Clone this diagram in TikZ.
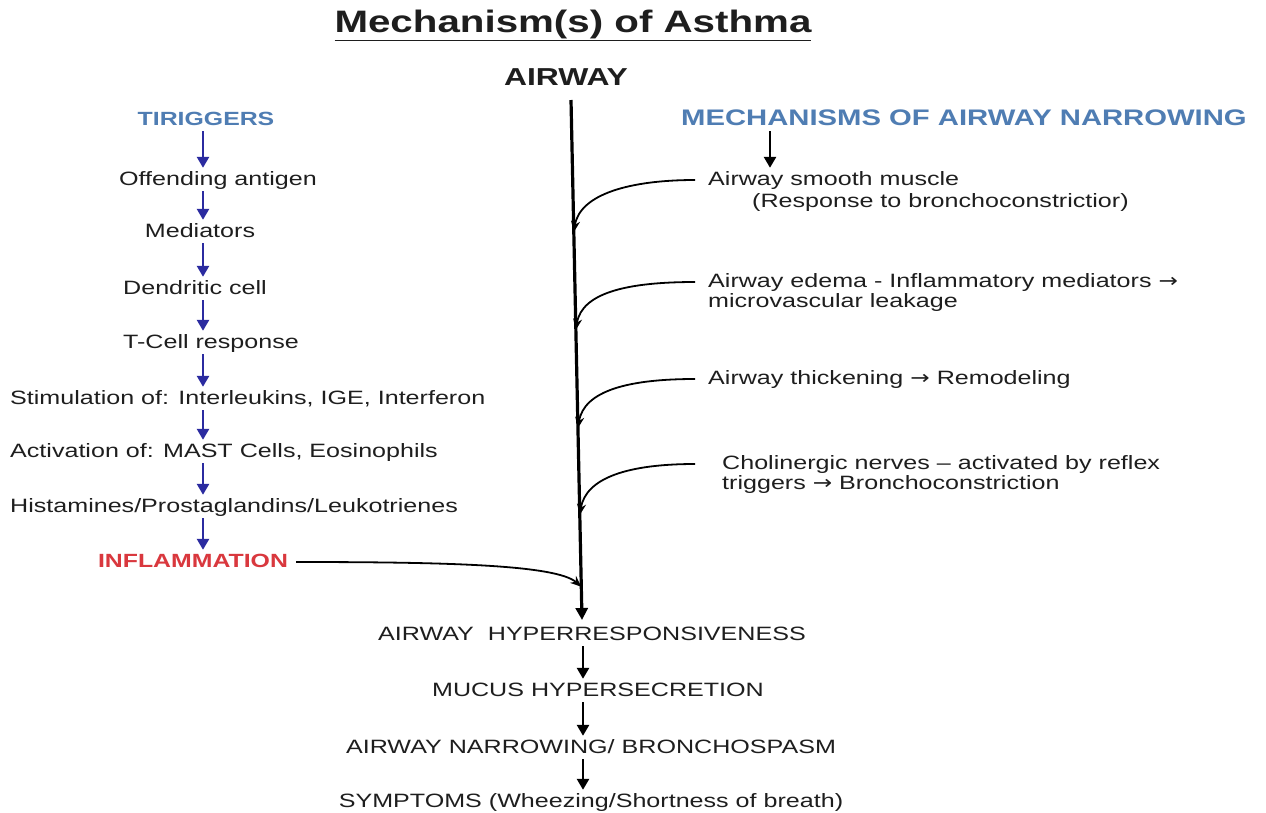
\documentclass[tikz,border=0pt]{standalone}
\usepackage{fontspec}
\setmainfont[FakeStretch=1.3]{Liberation Sans}
\newfontfamily\arrfont[FakeStretch=1.2]{DejaVu Sans}
\newcommand{\rarr}{{\arrfont →}}
\usetikzlibrary{arrows.meta,calc}
\definecolor{hdrblue}{HTML}{4F7DB3}
\definecolor{arrblue}{HTML}{2B2BA0}
\definecolor{inflred}{HTML}{D9383E}
\definecolor{ink}{HTML}{1E1E1E}
\begin{document}
\begin{tikzpicture}[x=1pt,y=-1pt,
  txt/.style={inner sep=0pt, text height=14pt, text depth=4pt, text=ink,
    font=\fontsize{19.3}{23}\selectfont},
  hdr/.style={inner sep=0pt, text height=14pt, text depth=4pt, text=hdrblue,
    font=\bfseries\fontsize{19.1}{23}\selectfont},
  barrow/.style={-{Triangle[length=11pt,width=12pt]}, line width=2.6pt, arrblue,
    shorten <=2pt, shorten >=3pt},
  karrow/.style={-{Triangle[length=11pt,width=12pt]}, line width=2.6pt, black,
    shorten <=2pt, shorten >=3pt},
  curv/.style={-{Stealth[length=11pt,width=9pt]}, line width=1.8pt, black}
]
\useasboundingbox (0,0) rectangle (1266,812);
\fill[white] (0,0) rectangle (1266,812);

% title and airway
\node[inner sep=0pt, anchor=base, text=ink, font=\bfseries\fontsize{31}{35}\selectfont]
  (title) at (573,32) {\underline{Mechanism(s) of Asthma}};
\node[inner sep=0pt, anchor=base, text=ink, font=\bfseries\fontsize{24.5}{28}\selectfont]
  (airway) at (566,85) {AIRWAY};

% main airway line
\coordinate (top) at (571,100);
\coordinate (bot) at (582,620);
\draw[-{Triangle[length=12pt,width=12pt]}, line width=3.2pt, black] (top) -- (bot);
\coordinate (m1) at ($(top)!0.254!(bot)$);
\coordinate (m2) at ($(top)!0.442!(bot)$);
\coordinate (m3) at ($(top)!0.631!(bot)$);
\coordinate (m4) at ($(top)!0.798!(bot)$);
\coordinate (mi) at ($(top)!0.936!(bot)$);

% left column
\coordinate (ax) at (203,0);
\node[hdr, anchor=base] (trig) at (206,125) {TIRIGGERS};
\node[txt, anchor=base] (off) at (218,185) {Offending antigen};
\node[txt, anchor=base] (med) at (200,237) {Mediators};
\node[txt, anchor=base] (den) at (195,294) {Dendritic cell};
\node[txt, anchor=base] (tcell) at (211,348) {T-Cell response};
\node[txt, anchor=base west] (stim) at (10,404) {Stimulation of: Interleukins, IGE, Interferon};
\node[txt, anchor=base west] (act) at (10,457) {Activation of: MAST Cells, Eosinophils};
\node[txt, anchor=base west] (hist) at (10,512) {Histamines/Prostaglandins/Leukotrienes};
\node[hdr, anchor=base, text=inflred] (infl) at (193,567) {INFLAMMATION};

\draw[barrow] (trig.south -| ax) -- (off.north -| ax);
\draw[barrow] (off.south -| ax) -- (med.north -| ax);
\draw[barrow] (med.south -| ax) -- (den.north -| ax);
\draw[barrow] (den.south -| ax) -- (tcell.north -| ax);
\draw[barrow] (tcell.south -| ax) -- (stim.north -| ax);
\draw[barrow] (stim.south -| ax) -- (act.north -| ax);
\draw[barrow] (act.south -| ax) -- (hist.north -| ax);
\draw[barrow] (hist.south -| ax) -- (infl.north -| ax);

% inflammation to airway
\draw[curv] ([xshift=8pt]infl.east) .. controls +(150,0) and +(-25,-22) .. (mi);

% right column
\coordinate (rx) at (770,0);
\node[hdr, anchor=base, font=\bfseries\fontsize{22.5}{26}\selectfont] (mech) at (964,125)
  {MECHANISMS OF AIRWAY NARROWING};
\node[txt, anchor=base west] (asm) at (708,185) {Airway smooth muscle};
\node[txt, anchor=base west] (asmr) at (752,207) {(Response to bronchoconstrictior)};
\node[txt, anchor=base west] (ede) at (708,287) {Airway edema - Inflammatory mediators \rarr};
\node[txt, anchor=base west] (edel) at (708,307) {microvascular leakage};
\node[txt, anchor=base west] (thk) at (708,384) {Airway thickening \rarr{} Remodeling};
\node[txt, anchor=base west] (cho) at (722,469) {Cholinergic nerves – activated by reflex};
\node[txt, anchor=base west] (chot) at (722,489) {triggers \rarr{} Bronchoconstriction};

\draw[karrow] (mech.south -| rx) -- (asm.north -| rx);

\draw[curv] ([xshift=-13pt]asm.west) .. controls +(-65,0) and +(6,-38) .. (m1);
\draw[curv] ([xshift=-13pt]ede.west) .. controls +(-65,0) and +(6,-38) .. (m2);
\draw[curv] ([xshift=-13pt]thk.west) .. controls +(-65,0) and +(6,-38) .. (m3);
\draw[curv] ([xshift=-27pt]cho.west) .. controls +(-65,0) and +(6,-38) .. (m4);

% bottom chain
\coordinate (bx) at (583,0);
\node[txt, anchor=base] (ahr) at (592,640) {AIRWAY\ \ HYPERRESPONSIVENESS};
\node[txt, anchor=base] (muc) at (598,696) {MUCUS HYPERSECRETION};
\node[txt, anchor=base] (nar) at (591,753) {AIRWAY NARROWING/ BRONCHOSPASM};
\node[txt, anchor=base] (sym) at (591,807) {SYMPTOMS (Wheezing/Shortness of breath)};

\draw[karrow] (ahr.south -| bx) -- (muc.north -| bx);
\draw[karrow] (muc.south -| bx) -- (nar.north -| bx);
\draw[karrow] (nar.south -| bx) -- (sym.north -| bx);
\end{tikzpicture}
\end{document}
